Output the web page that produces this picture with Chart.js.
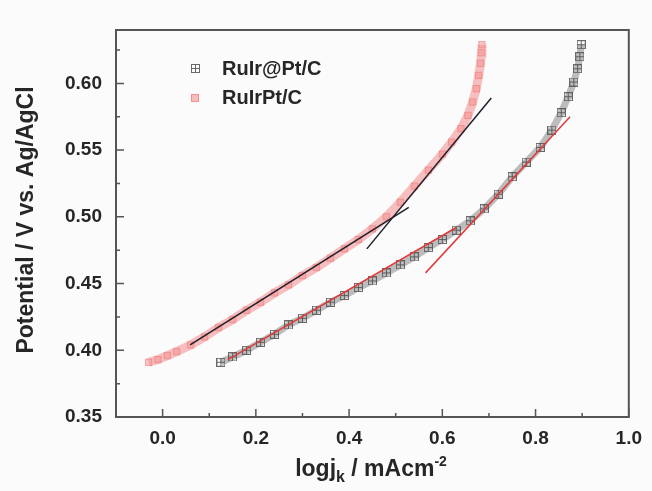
<!DOCTYPE html>
<html>
<head>
<meta charset="utf-8">
<script src="https://cdn.jsdelivr.net/npm/chart.js@4.4.0/dist/chart.umd.min.js"></script>
<style>
  html, body { margin: 0; padding: 0; background: #fbfbfb; }
  #wrap { width: 652px; height: 491px; }
</style>
</head>
<body>
<div id="wrap"><canvas id="tafel" width="652" height="491"></canvas></div>
<script>
(function () {
  "use strict";

  // RuIr@Pt/C (gray crossed squares)
  const xRuIrAtPt = [0.125, 0.15, 0.18, 0.21, 0.24, 0.27, 0.30, 0.33, 0.36, 0.39, 0.42, 0.45, 0.48, 0.51, 0.54,
    0.57, 0.60, 0.63, 0.66, 0.69, 0.72, 0.75, 0.78, 0.81, 0.835, 0.855, 0.87, 0.882, 0.89, 0.895, 0.898];
  const yRuIrAtPt = [0.391, 0.395, 0.400, 0.406, 0.412, 0.419, 0.424, 0.430, 0.436, 0.441, 0.447, 0.452, 0.458, 0.464, 0.470,
    0.477, 0.483, 0.490, 0.497, 0.506, 0.517, 0.530, 0.541, 0.552, 0.565, 0.578, 0.590, 0.601, 0.611, 0.620, 0.629];

  // RuIrPt/C (pink squares)
  const xRuIrPt = [-0.03, -0.01, 0.01, 0.03, 0.06, 0.09, 0.12, 0.15, 0.18, 0.21, 0.24, 0.27, 0.30, 0.33, 0.36, 0.39,
    0.42, 0.45, 0.48, 0.51, 0.54, 0.57, 0.60, 0.62, 0.64, 0.655, 0.665, 0.673, 0.678, 0.682, 0.684, 0.685];
  const yRuIrPt = [0.391, 0.393, 0.396, 0.399, 0.404, 0.410, 0.417, 0.423, 0.430, 0.436, 0.443, 0.449, 0.456, 0.462, 0.469, 0.476,
    0.483, 0.491, 0.500, 0.511, 0.523, 0.535, 0.547, 0.556, 0.566, 0.576, 0.586, 0.596, 0.606, 0.615, 0.623, 0.629];

  // linear fits (end points)
  const fitBlackLow  = [[0.059, 0.404], [0.528, 0.507]];
  const fitBlackHigh = [[0.438, 0.476], [0.705, 0.589]];
  const fitRedLow    = [[0.14, 0.393], [0.63, 0.492]];
  const fitRedHigh   = [[0.564, 0.458], [0.874, 0.575]];

  // ticks
  const xTicks = [0.0, 0.2, 0.4, 0.6, 0.8, 1.0];
  const xMinor = [0.1, 0.3, 0.5, 0.7, 0.9];
  const yTicks = [0.35, 0.40, 0.45, 0.50, 0.55, 0.60];
  const yMinor = [0.375, 0.425, 0.475, 0.525, 0.575, 0.625];

  const FONT = '"Liberation Sans", Arial, sans-serif';
  const textColor = '#262626';
  const frameColor = '#555555';

  function pts(xs, ys) {
    return xs.map(function (x, i) { return { x: x, y: ys[i] }; });
  }
  function seg(p) {
    return p.map(function (q) { return { x: q[0], y: q[1] }; });
  }

  // square with a plus inside
  function crossBox(size, color) {
    const c = document.createElement('canvas');
    c.width = size; c.height = size;
    const g = c.getContext('2d');
    g.strokeStyle = color;
    g.lineWidth = 1;
    g.strokeRect(0.5, 0.5, size - 1, size - 1);
    g.beginPath();
    g.moveTo(size / 2, 1); g.lineTo(size / 2, size - 1);
    g.moveTo(1, size / 2); g.lineTo(size - 1, size / 2);
    g.stroke();
    return c;
  }
  const crossImg = crossBox(9, 'rgba(80,80,80,0.85)');

  // frame, inward ticks, axis titles, legend
  const decor = {
    id: 'decor',
    afterDraw: function (chart) {
      const ctx = chart.ctx;
      const a = chart.chartArea;
      const xs = chart.scales.x, ys = chart.scales.y;
      ctx.save();
      ctx.strokeStyle = frameColor;
      ctx.lineWidth = 2;
      ctx.strokeRect(a.left, a.top, a.right - a.left, a.bottom - a.top);

      ctx.lineWidth = 1.5;
      ctx.beginPath();
      xTicks.forEach(function (v) { const p = xs.getPixelForValue(v); ctx.moveTo(p, a.bottom); ctx.lineTo(p, a.bottom - 8); });
      xMinor.forEach(function (v) { const p = xs.getPixelForValue(v); ctx.moveTo(p, a.bottom); ctx.lineTo(p, a.bottom - 4); });
      yTicks.forEach(function (v) { const p = ys.getPixelForValue(v); ctx.moveTo(a.left, p); ctx.lineTo(a.left + 8, p); });
      yMinor.forEach(function (v) { const p = ys.getPixelForValue(v); ctx.moveTo(a.left, p); ctx.lineTo(a.left + 4, p); });
      ctx.stroke();

      ctx.fillStyle = textColor;
      // y title
      ctx.save();
      ctx.translate(27, 220);
      ctx.rotate(-Math.PI / 2);
      ctx.font = 'bold 23px ' + FONT;
      ctx.textAlign = 'center';
      ctx.textBaseline = 'middle';
      ctx.fillText('Potential / V vs. Ag/AgCl', 0, 0);
      ctx.restore();

      // x title with sub/superscript
      const parts = [
        { t: 'logj', size: 23, dy: 0 },
        { t: 'k', size: 16, dy: 6 },
        { t: ' / mAcm', size: 23, dy: 0 },
        { t: '-2', size: 14, dy: -10 }
      ];
      let total = 0;
      parts.forEach(function (p) { ctx.font = 'bold ' + p.size + 'px ' + FONT; p.w = ctx.measureText(p.t).width; total += p.w; });
      let cx = 371 - total / 2;
      ctx.textAlign = 'left';
      ctx.textBaseline = 'alphabetic';
      parts.forEach(function (p) {
        ctx.font = 'bold ' + p.size + 'px ' + FONT;
        ctx.fillText(p.t, cx, 476 + p.dy);
        cx += p.w;
      });

      // legend
      ctx.drawImage(crossImg, 191, 64);
      ctx.fillStyle = 'rgba(245,150,150,0.6)';
      ctx.strokeStyle = 'rgba(235,110,110,0.6)';
      ctx.lineWidth = 1;
      ctx.fillRect(191, 94, 8, 8);
      ctx.strokeRect(191.5, 94.5, 7, 7);
      ctx.fillStyle = textColor;
      ctx.font = 'bold 20px ' + FONT;
      ctx.textBaseline = 'middle';
      ctx.fillText('RuIr@Pt/C', 222, 69);
      ctx.fillText('RuIrPt/C', 222, 98);
      ctx.restore();
    }
  };

  const chartTafel = new Chart(document.getElementById('tafel').getContext('2d'), {
    type: 'scatter',
    data: {
      datasets: [
        { label: 'fit1', data: seg(fitBlackLow), showLine: true, pointRadius: 0, borderColor: '#1e1e2a', borderWidth: 1.5, order: 0 },
        { label: 'fit2', data: seg(fitBlackHigh), showLine: true, pointRadius: 0, borderColor: '#1e1e2a', borderWidth: 1.5, order: 0 },
        { label: 'fit3', data: seg(fitRedLow), showLine: true, pointRadius: 0, borderColor: '#e03a3a', borderWidth: 1.5, order: 0 },
        { label: 'fit4', data: seg(fitRedHigh), showLine: true, pointRadius: 0, borderColor: '#e03a3a', borderWidth: 1.5, order: 0 },
        {
          label: 'RuIr@Pt/C',
          data: pts(xRuIrAtPt, yRuIrAtPt),
          showLine: true,
          borderColor: 'rgba(110,110,110,0.45)',
          borderWidth: 7,
          pointStyle: crossImg,
          order: 1
        },
        {
          label: 'RuIrPt/C',
          data: pts(xRuIrPt, yRuIrPt),
          showLine: true,
          borderColor: 'rgba(243,140,140,0.55)',
          borderWidth: 9,
          pointStyle: 'rect',
          pointRadius: 4.5,
          pointBackgroundColor: 'rgba(245,150,150,0.55)',
          pointBorderColor: 'rgba(235,110,110,0.5)',
          pointBorderWidth: 1,
          order: 2
        }
      ]
    },
    options: {
      responsive: false,
      devicePixelRatio: 1,
      animation: false,
      layout: { padding: { top: 30, right: 15, left: 0, bottom: 0 } },
      plugins: {
        legend: { display: false },
        tooltip: { enabled: false }
      },
      scales: {
        x: {
          type: 'linear',
          min: -0.1,
          max: 1.0,
          grid: { display: false, drawTicks: false },
          border: { display: false },
          afterBuildTicks: function (s) { s.ticks = xTicks.map(function (v) { return { value: v }; }); },
          afterFit: function (s) { s.height = 74; },
          ticks: {
            padding: 10,
            color: textColor,
            font: { family: FONT, size: 19, weight: 'bold' },
            callback: function (v) { return Number(v).toFixed(1); }
          }
        },
        y: {
          type: 'linear',
          min: 0.35,
          max: 0.64,
          grid: { display: false, drawTicks: false },
          border: { display: false },
          afterBuildTicks: function (s) { s.ticks = yTicks.map(function (v) { return { value: v }; }); },
          afterFit: function (s) { s.width = 116; },
          ticks: {
            padding: 14,
            color: textColor,
            font: { family: FONT, size: 19, weight: 'bold' },
            callback: function (v) { return Number(v).toFixed(2); }
          }
        }
      }
    },
    plugins: [decor]
  });

})();
</script>
</body>
</html>
